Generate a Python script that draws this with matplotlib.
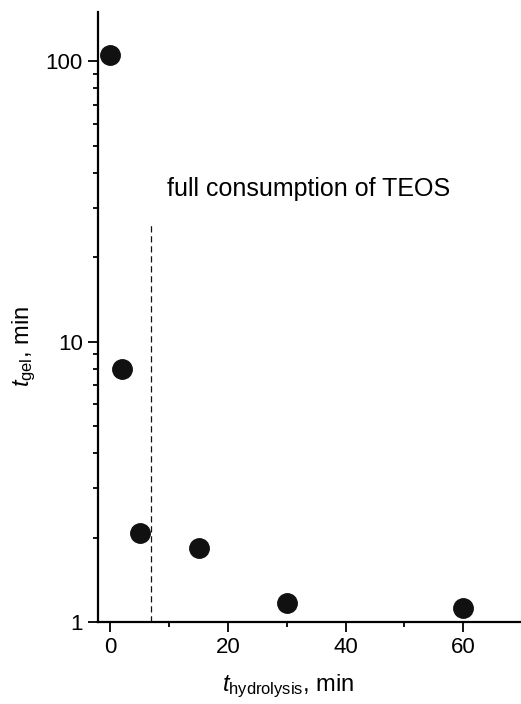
import matplotlib
matplotlib.use('Agg')
import matplotlib.pyplot as plt
from matplotlib.ticker import FixedLocator, FuncFormatter, LogLocator, NullFormatter, MultipleLocator

plt.rcParams['font.family'] = 'Liberation Sans'
plt.rcParams['mathtext.fontset'] = 'custom'
plt.rcParams['mathtext.rm'] = 'Liberation Sans'
plt.rcParams['mathtext.it'] = 'Liberation Sans:italic'

t_hydrolysis = [0, 2, 5, 15, 30, 60]
t_gel = [105, 8.0, 2.08, 1.83, 1.17, 1.125]

teos_consumed_at = 7
dash_top = 26

fig = plt.figure(figsize=(5.21, 7.04), dpi=100)
ax = fig.add_axes([0.188, 0.1165, 0.812, 0.8665])

ax.plot(t_hydrolysis, t_gel, 'o', color='#111111', markersize=14, clip_on=False)
ax.plot([teos_consumed_at, teos_consumed_at], [1, dash_top], color='#111111',
        lw=0.9, dashes=(5, 3))
ax.text(9.7, 35, 'full consumption of TEOS', fontsize=18, va='center', ha='left')

ax.set_yscale('log')
ax.set_xlim(-2.1, 69.8)
ax.set_ylim(1, 150)

ax.xaxis.set_major_locator(FixedLocator([0, 20, 40, 60]))
ax.xaxis.set_minor_locator(MultipleLocator(10))
ax.yaxis.set_major_locator(FixedLocator([1, 10, 100]))
ax.yaxis.set_major_formatter(FuncFormatter(lambda v, p: f'{v:g}'))
ax.yaxis.set_minor_locator(LogLocator(base=10, subs=range(2, 10)))
ax.yaxis.set_minor_formatter(NullFormatter())

for side in ('top', 'right'):
    ax.spines[side].set_visible(False)
for side in ('left', 'bottom'):
    ax.spines[side].set_linewidth(1.6)

ax.tick_params(which='major', direction='out', length=7, width=1.3, labelsize=16, pad=4)
ax.tick_params(which='minor', direction='out', length=3.5, width=1.3)

ax.set_xlabel(r'$t_{\mathrm{hydrolysis}}$, min', fontsize=17, labelpad=10)
ax.set_ylabel(r'$t_{\mathrm{gel}}$, min', fontsize=17, labelpad=5)
ax.xaxis.label.set_x(0.449)
ax.yaxis.label.set_y(0.452)

fig.savefig('out.png', dpi=100)
